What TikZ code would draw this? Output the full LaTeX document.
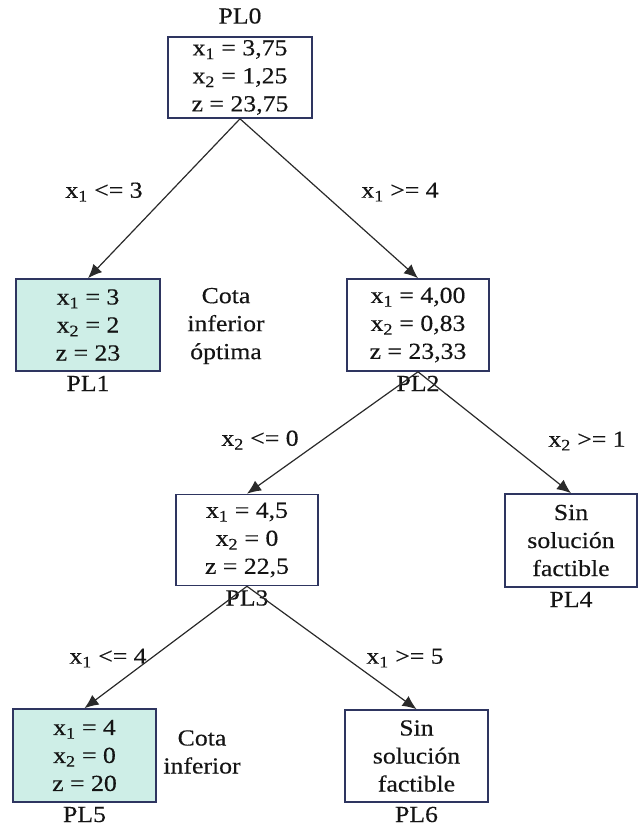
\documentclass[tikz,border=0pt]{standalone}
\usepackage{fontspec}
\setmainfont[FakeStretch=1.12,FakeBold=0.3]{Liberation Serif}
\usetikzlibrary{arrows.meta}
\definecolor{boxline}{HTML}{2E3560}
\definecolor{boxfill}{HTML}{CEEEE7}
\definecolor{edgeline}{HTML}{2A2A2A}
\definecolor{ink}{HTML}{141414}
\newcommand{\xv}[1]{x\textsubscript{#1}}

\begin{document}
\begin{tikzpicture}[x=1pt,y=-1pt,
  every node/.style={text=ink, font=\fontsize{23}{28}\selectfont},
  lpbox/.style={draw=boxline, line width=1.6pt, fill=white, align=center, inner sep=0pt},
  bound/.style={lpbox, fill=boxfill},
  plname/.style={anchor=north, inner sep=0pt, text height=16pt, text depth=0pt, yshift=-3pt},
  branch/.style={draw=edgeline, line width=1.2pt, -{Latex[length=14pt,width=12pt]}},
  cond/.style={inner sep=0pt},
  note/.style={align=center, inner sep=0pt}
]
\useasboundingbox (0,0) rectangle (638,827);

% subproblem boxes
\node[lpbox, minimum width=144pt, minimum height=81pt] (pl0) at (240,77.5)
  {\xv{1} = 3,75\\ \xv{2} = 1,25\\ z = 23,75};
\node[bound, minimum width=144pt, minimum height=92pt] (pl1) at (88,325)
  {\xv{1} = 3\\ \xv{2} = 2\\ z = 23};
\node[lpbox, minimum width=142pt, minimum height=92pt] (pl2) at (418,325)
  {\xv{1} = 4,00\\ \xv{2} = 0,83\\ z = 23,33};
\node[lpbox, minimum width=142pt, minimum height=91pt] (pl3) at (247,540)
  {\xv{1} = 4,5\\ \xv{2} = 0\\ z = 22,5};
\node[lpbox, minimum width=132pt, minimum height=93pt] (pl4) at (571,540.5)
  {Sin\\ solución\\ factible};
\node[bound, minimum width=143pt, minimum height=93pt] (pl5) at (84.5,755.5)
  {\xv{1} = 4\\ \xv{2} = 0\\ z = 20};
\node[lpbox, minimum width=143pt, minimum height=92pt] (pl6) at (416.5,756)
  {Sin\\ solución\\ factible};

% problem names
\node[inner sep=0pt] (n0) at (240,16) {PL0};
\node[plname] (n1) at (pl1.south) {PL1};
\node[plname] (n2) at (pl2.south) {PL2};
\node[plname] (n3) at (pl3.south) {PL3};
\node[plname] (n4) at (pl4.south) {PL4};
\node[plname] (n5) at (pl5.south) {PL5};
\node[plname] (n6) at (pl6.south) {PL6};

% bound annotations
\node[note] (c1) at (226,326) {Cota\\ inferior\\ óptima};
\node[note] (c5) at (202,752) {Cota\\ inferior};

% branching conditions
\node[cond] (b01) at (104,192) {\xv{1} <= 3};
\node[cond] (b02) at (400,192) {\xv{1} >= 4};
\node[cond] (b23) at (260,440) {\xv{2} <= 0};
\node[cond] (b24) at (587,441) {\xv{2} >= 1};
\node[cond] (b35) at (108,658) {\xv{1} <= 4};
\node[cond] (b36) at (405,658) {\xv{1} >= 5};

% branches
\draw[branch] (pl0.south) -- (pl1.north);
\draw[branch] (pl0.south) -- (pl2.north);
\draw[branch] (pl2.south) -- (pl3.north);
\draw[branch] (pl2.south) -- (pl4.north);
\draw[branch] (pl3.south) -- (pl5.north);
\draw[branch] (pl3.south) -- (pl6.north);
\end{tikzpicture}
\end{document}
